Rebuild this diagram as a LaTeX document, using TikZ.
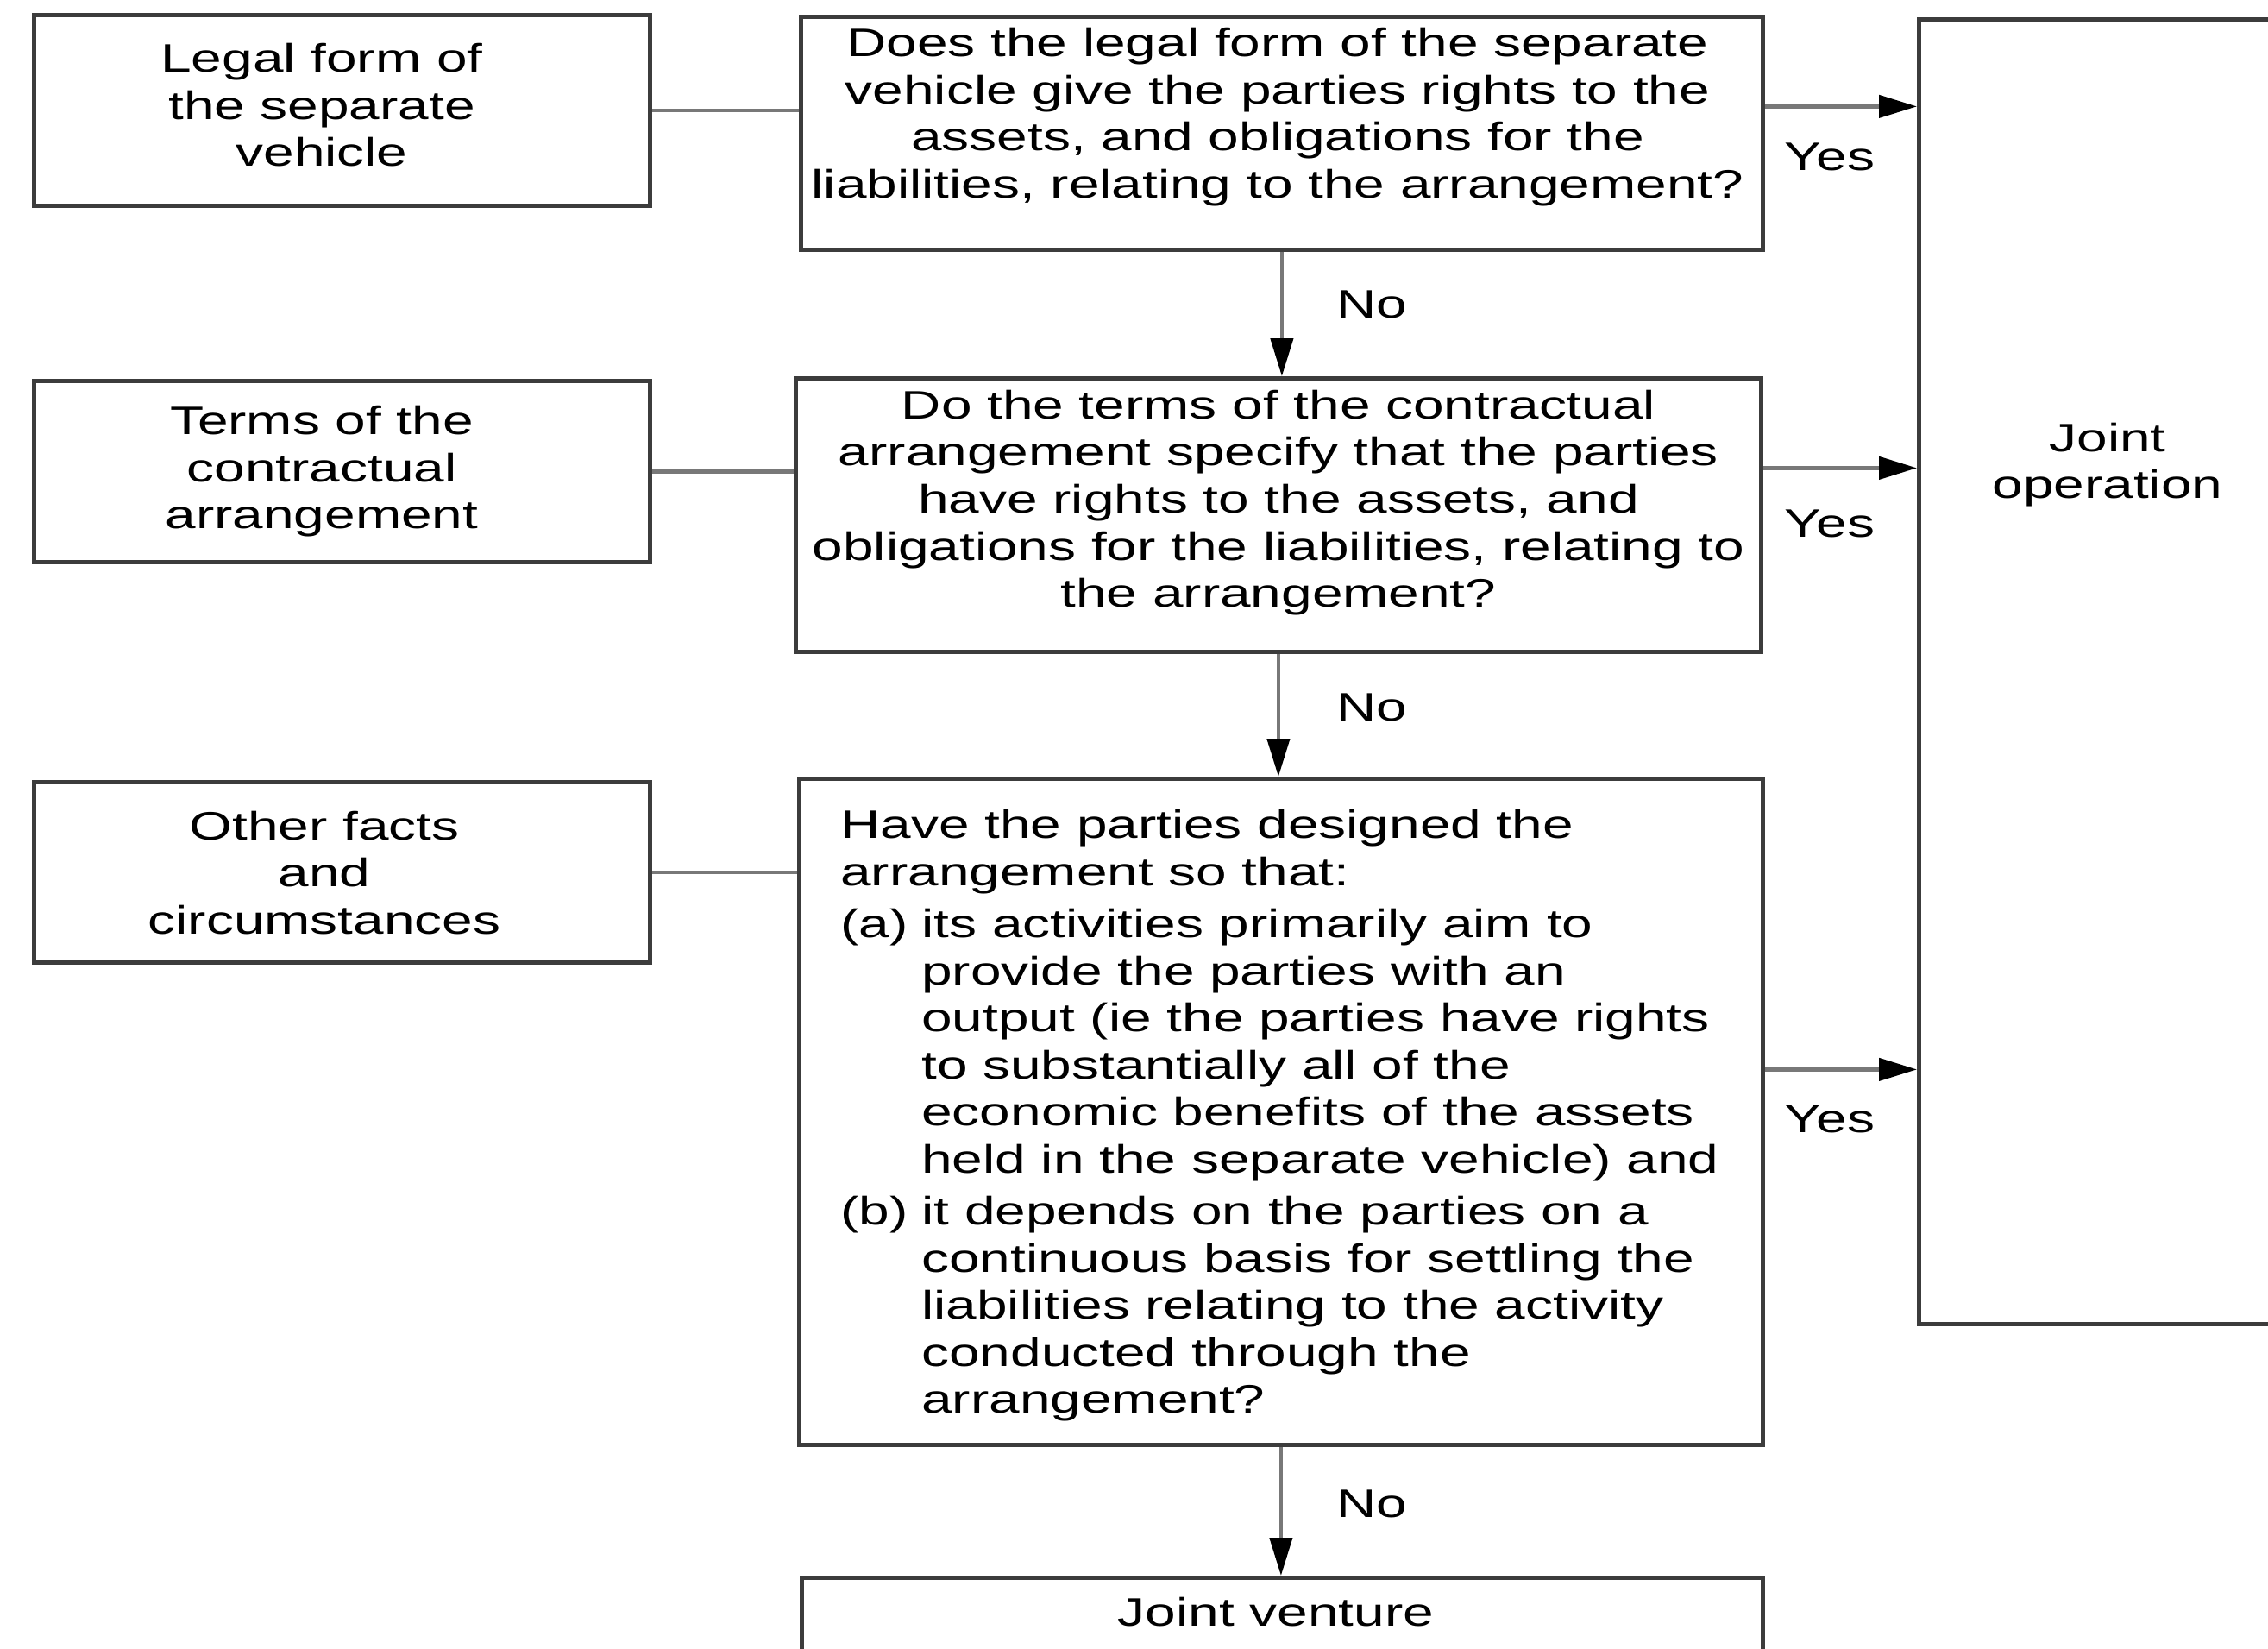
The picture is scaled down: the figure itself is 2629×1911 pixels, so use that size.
\documentclass[tikz,border=0pt]{standalone}
\usepackage{fontspec}
\setmainfont[FakeStretch=1.39]{Liberation Sans}
\usetikzlibrary{arrows.meta}
\definecolor{boxc}{RGB}{60,60,60}
\definecolor{linec}{RGB}{120,120,120}
\begin{document}
\begin{tikzpicture}[x=0.5pt,y=-0.5pt,
  box/.style={draw=boxc,line width=2.4pt,fill=white,inner sep=0pt,anchor=north west},
  txt/.style={font=\fontsize{23}{27.25}\selectfont,inner sep=0pt,align=center,yshift=-4pt,execute at begin node=\strut,execute at end node=\strut},
  conn/.style={draw=linec,line width=2.2pt},
  arr/.style={conn,-{Triangle[length=22pt,width=13pt,color=black,fill=black]}},
  lbl/.style={font=\fontsize{23}{27.25}\selectfont,inner sep=0pt,yshift=-4pt,execute at begin node=\strut}
]
\fill[white] (0,0) rectangle (2629,1911);
\useasboundingbox (0,0) rectangle (2629,1911);

% boxes
\node[box,minimum width=357pt,minimum height=110.5pt] (l1) at (37,15) {};
\node[box,minimum width=357pt,minimum height=105pt] (l2) at (37,439) {};
\node[box,minimum width=357pt,minimum height=104.5pt] (l3) at (37,904) {};
\node[box,minimum width=557.5pt,minimum height=135pt] (q1) at (926,17) {};
\node[box,minimum width=559.5pt,minimum height=158.5pt] (q2) at (920,436) {};
\node[box,minimum width=558.5pt,minimum height=386pt] (q3) at (924,900) {};
\node[box,minimum width=557pt,minimum height=100pt] (jv) at (927,1826) {};
\node[box,minimum width=250pt,minimum height=756pt] (jo) at (2222,20) {};

% texts
\node[txt] (l1t) at (373,122) {Legal form of\\the separate\\vehicle};
\node[txt] (l2t) at (373,542) {Terms of the\\contractual\\arrangement};
\node[txt] (l3t) at (376,1011) {Other facts\\and\\circumstances};
\node[txt] (q1t) at (1481,131) {Does the legal form of the separate\\vehicle give the parties rights to the\\assets, and obligations for the\\liabilities, relating to the arrangement?};
\node[txt] (q2t) at (1482,578) {Do the terms of the contractual\\arrangement specify that the parties\\have rights to the assets, and\\obligations for the liabilities, relating to\\the arrangement?};
\node[txt,align=left,anchor=west] (q3t) at (974,1288) {Have the parties designed the\\arrangement so that:\\[3pt]%
\makebox[47pt][l]{(a)}its activities primarily aim to\\
\hspace*{47pt}provide the parties with an\\
\hspace*{47pt}output (ie the parties have rights\\
\hspace*{47pt}to substantially all of the\\
\hspace*{47pt}economic benefits of the assets\\
\hspace*{47pt}held in the separate vehicle) and\\[3pt]%
\makebox[47pt][l]{(b)}it depends on the parties on a\\
\hspace*{47pt}continuous basis for settling the\\
\hspace*{47pt}liabilities relating to the activity\\
\hspace*{47pt}conducted through the\\
\hspace*{47pt}arrangement?};
\node[txt] (jot) at (2443,534) {Joint\\operation};
\node[txt] (jvt) at (1479,1866) {Joint venture};

% connectors
\draw[conn] (l1.east) -- (l1.east -| q1.west);
\draw[conn] (l2.east) -- (l2.east -| q2.west);
\draw[conn] (l3.east) -- (l3.east -| q3.west);
\path ([yshift=15.5pt]q1.east) coordinate (y1);
\path ([yshift=27.25pt]q2.east) coordinate (y2);
\path ([yshift=24.5pt]q3.east) coordinate (y3);
\draw[arr] (y1) -- (y1 -| jo.west);
\draw[arr] (y2) -- (y2 -| jo.west);
\draw[arr] (y3) -- (y3 -| jo.west);
\draw[arr] (q1.south) -- (q1.south |- q2.north);
\draw[arr] (q2.south) -- (q2.south |- q3.north);
\draw[arr] (q3.south) -- (q3.south |- jv.north);

% labels
\node[lbl] (yes1) at (2121,179) {Yes};
\node[lbl] (yes2) at (2121,604) {Yes};
\node[lbl] (yes3) at (2121,1294) {Yes};
\node[lbl] (no1) at (1590,350) {No};
\node[lbl] (no2) at (1590,817) {No};
\node[lbl] (no3) at (1590,1740) {No};
\end{tikzpicture}
\end{document}
